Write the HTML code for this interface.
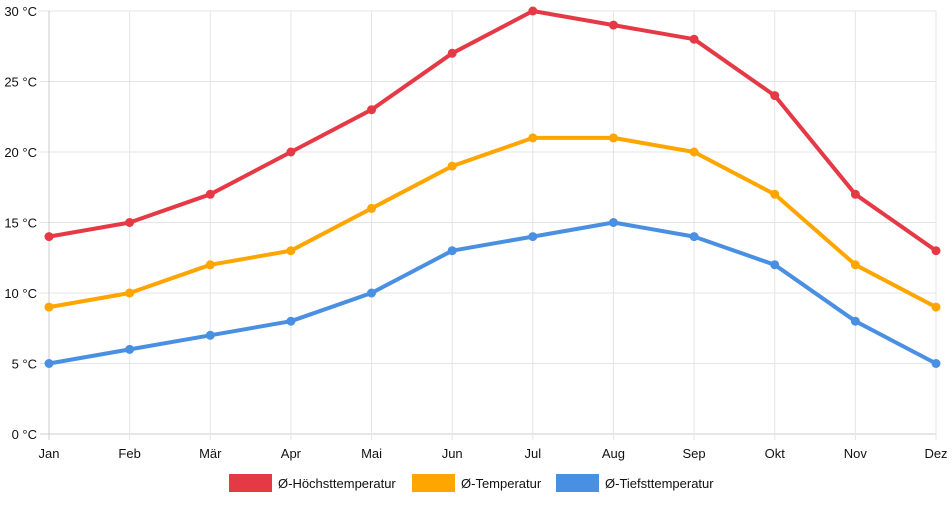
<!DOCTYPE html>
<html><head><meta charset="utf-8"><style>
body{margin:0;background:#fff;font-family:"Liberation Sans",sans-serif;}
svg text{font-family:"Liberation Sans",sans-serif;font-size:13px;fill:#111;}
</style></head><body>
<svg id="c" width="952" height="500"></svg>
<script>
const months=["Jan","Feb","Mär","Apr","Mai","Jun","Jul","Aug","Sep","Okt","Nov","Dez"];
const high=[14,15,17,20,23,27,30,29,28,24,17,13];
const avg=[9,10,12,13,16,19,21,21,20,17,12,9];
const low=[5,6,7,8,10,13,14,15,14,12,8,5];
const yTicks=[0,5,10,15,20,25,30];
const seriesNames=["Ø-Höchsttemperatur","Ø-Temperatur","Ø-Tiefsttemperatur"];
const colors=["#e63946","#ffa500","#4a90e2"];
const svg=document.getElementById('c');const NS="http://www.w3.org/2000/svg";
const x0=49,x1=936,yTop=11,yBot=434;
const xS=i=>x0+i*(x1-x0)/(months.length-1);
const yS=v=>yBot-(v/30)*(yBot-yTop);
function mk(t,a,p){const e=document.createElementNS(NS,t);for(const k in a)e.setAttribute(k,a[k]);(p||svg).appendChild(e);return e;}
yTicks.forEach(v=>{const y=yS(v);
const l=mk('line',{x1:40,x2:x1,y1:y,y2:y,stroke:v===0?'#ccc':'#e5e5e5'});


const t=mk('text',{x:37,y:y+5,'text-anchor':'end'});t.textContent=v+' °C';

});
months.forEach((m,i)=>{const x=xS(i);
const l=mk('line',{x1:x,x2:x,y1:yTop,y2:yBot+6,stroke:i===0?'#ccc':'#e5e5e5'});


const t=mk('text',{x:x,y:458,'text-anchor':'middle'});t.textContent=m;

});
[high,avg,low].forEach((d,s)=>{
const g=mk('g',{});


const p=mk('polyline',{points:d.map((v,i)=>xS(i)+','+yS(v)).join(' '),fill:'none',stroke:colors[s],'stroke-width':4,'stroke-linejoin':'round'},g);


d.forEach((v,i)=>{const c=mk('circle',{cx:xS(i),cy:yS(v),r:4.5,fill:colors[s]},g);

});});
const lx=[229,412,556];
seriesNames.forEach((n,s)=>{
const g=mk('g',{});


mk('rect',{x:lx[s],y:474,width:43,height:18,fill:colors[s]},g);
const t=mk('text',{x:lx[s]+49,y:488},g);t.textContent=n;});
</script>
</body></html>
